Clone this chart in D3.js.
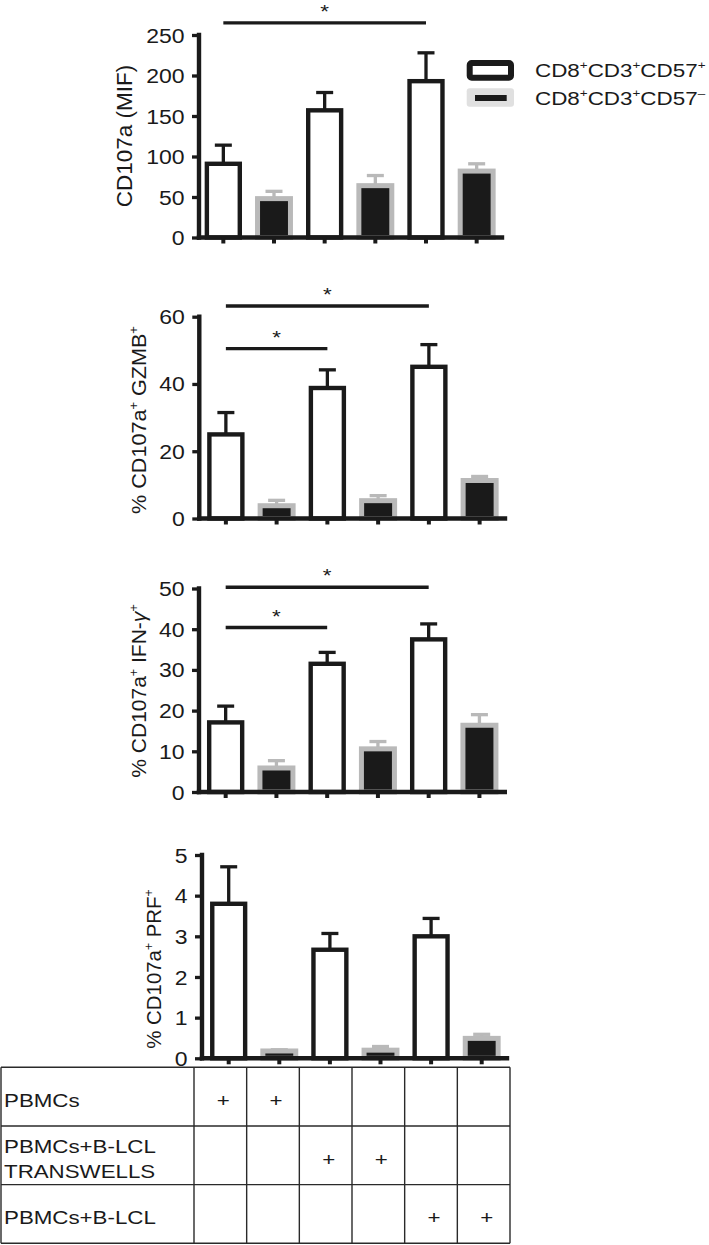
<!DOCTYPE html>
<html>
<head>
<meta charset="utf-8">
<script src="https://cdn.jsdelivr.net/npm/d3@7"></script>
<style>
  body { margin: 0; background: #fff; }
  svg { display: block; }
  text { font-family: "Liberation Sans", Arial, Helvetica, sans-serif; fill: #1a1a1a; }
</style>
</head>
<body>
<svg id="chart" width="709" height="1245"></svg>
<script>
// ---- data ----
var barNames = ["PBMCs CD57+", "PBMCs CD57-", "Transwell CD57+", "Transwell CD57-", "B-LCL CD57+", "B-LCL CD57-"];
var barSubset = ["pos", "neg", "pos", "neg", "pos", "neg"];

var mifMean = [91, 48, 157, 64, 193, 82];
var mifErr = [23, 9, 22, 12.5, 35, 9];
var mifTicks = [0, 50, 100, 150, 200, 250];
var mifSig = [[0, 4, 265]];

var gzmbMean = [25, 3.8, 38.8, 5.3, 45.1, 11.3];
var gzmbErr = [6.5, 1.6, 5.4, 1.5, 6.6, 1.2];
var gzmbTicks = [0, 20, 40, 60];
var gzmbSig = [[0, 4, 63.2], [0, 2, 50.5]];

var ifngMean = [17.1, 5.9, 31.5, 10.6, 37.5, 16.4];
var ifngErr = [4, 1.8, 2.8, 1.8, 3.8, 2.6];
var ifngTicks = [0, 10, 20, 30, 40, 50];
var ifngSig = [[0, 4, 50.3], [0, 2, 40.4]];

var prfMean = [3.8, 0.18, 2.67, 0.2, 3.0, 0.49];
var prfErr = [0.91, 0.03, 0.4, 0.09, 0.44, 0.1];
var prfTicks = [0, 1, 2, 3, 4, 5];
var prfSig = [];

var legendLabels = [
	[{t: "CD8"}, {t: "+", sup: 1}, {t: "CD3"}, {t: "+", sup: 1}, {t: "CD57"}, {t: "+", sup: 1}],
	[{t: "CD8"}, {t: "+", sup: 1}, {t: "CD3"}, {t: "+", sup: 1}, {t: "CD57"}, {t: "\u2013", sup: 1}]
];

var rowLabels = [["PBMCs"], ["PBMCs+B-LCL", "TRANSWELLS"], ["PBMCs+B-LCL"]];
var rowMarks = [[1, 1, 0, 0, 0, 0], [0, 0, 1, 1, 0, 0], [0, 0, 0, 0, 1, 1]];

var panels = [
	{mean: mifMean, err: mifErr, ticks: mifTicks, sig: mifSig,
	 title: [{t: "CD107a (MIF)"}]},
	{mean: gzmbMean, err: gzmbErr, ticks: gzmbTicks, sig: gzmbSig,
	 title: [{t: "% CD107a"}, {t: "+", sup: 1}, {t: " GZMB"}, {t: "+", sup: 1}]},
	{mean: ifngMean, err: ifngErr, ticks: ifngTicks, sig: ifngSig,
	 title: [{t: "% CD107a"}, {t: "+", sup: 1}, {t: " IFN-"}, {t: "\u03b3", it: 1}, {t: "+", sup: 1, it: 1}]},
	{mean: prfMean, err: prfErr, ticks: prfTicks, sig: prfSig,
	 title: [{t: "% CD107a"}, {t: "+", sup: 1}, {t: " PRF"}, {t: "+", sup: 1}]}
];

// ---- layout ----
var layouts = [
	{axisX: 199, band: [198, 502], y0: 237.5, yTop: 35, titleX: 132, titleY: 136, titleSize: 22.5, titleSX: 1.0},
	{axisX: 199.3, band: [200.5, 505], y0: 518.5, yTop: 316.7, titleX: 146, titleY: 420, titleSize: 20, titleSX: 1.08},
	{axisX: 199, band: [200.3, 504.8], y0: 792, yTop: 588.5, titleX: 146, titleY: 691, titleSize: 20, titleSX: 1.05},
	{axisX: 202, band: [203.4, 507], y0: 1058.3, yTop: 855, titleX: 161, titleY: 969, titleSize: 20, titleSX: 1.02}
];

var INK = "#1a1a1a", GREY = "#b9b9b9", SX = 1.18;
var svg = d3.select("#chart");

function rich(textSel, parts, size) {
	var shift = 0;
	parts.forEach(function(p) {
		var ts = textSel.append("tspan").text(p.t);
		var target = p.sup ? -size * 0.42 : 0;
		if (target !== shift) ts.attr("dy", target - shift);
		shift = target;
		if (p.sup) ts.attr("font-size", size * 0.6);
		if (p.it) ts.attr("font-style", "italic");
	});
}

panels.forEach(function(p, k) {
	var L = layouts[k];
	var g = svg.append("g");

	var x = d3.scaleBand().domain(d3.range(barNames.length)).range(L.band);
	var y = d3.scaleLinear().domain([0, d3.max(p.ticks)]).range([L.y0, L.yTop]);
	var bw = x.bandwidth() * 0.65;

	var rows = p.mean.map(function(v, i) { return {i: i, v: v, e: p.err[i], s: barSubset[i]}; });

	// error bars (upper only)
	var eb = g.selectAll(".err").data(rows).enter().append("g")
		.attr("stroke", function(d) { return d.s === "pos" ? INK : GREY; })
		.attr("stroke-width", 3.3);
	eb.append("line")
		.attr("x1", function(d) { return x(d.i) + x.bandwidth() / 2; })
		.attr("x2", function(d) { return x(d.i) + x.bandwidth() / 2; })
		.attr("y1", function(d) { return y(d.v); })
		.attr("y2", function(d) { return y(d.v + d.e); });
	eb.append("line")
		.attr("x1", function(d) { return x(d.i) + x.bandwidth() / 2 - 8.5; })
		.attr("x2", function(d) { return x(d.i) + x.bandwidth() / 2 + 8.5; })
		.attr("y1", function(d) { return y(d.v + d.e); })
		.attr("y2", function(d) { return y(d.v + d.e); });

	// bars
	g.selectAll(".bar").data(rows).enter().append("rect")
		.attr("x", function(d) { return x(d.i) + (x.bandwidth() - bw) / 2; })
		.attr("width", bw)
		.attr("y", function(d) { return y(d.v); })
		.attr("height", function(d) { return y(0) - y(d.v); })
		.attr("fill", function(d) { return d.s === "pos" ? "#fff" : INK; })
		.attr("stroke", function(d) { return d.s === "pos" ? INK : GREY; })
		.attr("stroke-width", function(d) { return d.s === "pos" ? 4.4 : 5; });

	// y axis
	var ya = g.append("g")
		.attr("transform", "translate(" + L.axisX + ",0)")
		.style("color", INK)
		.call(d3.axisLeft(y).tickValues(p.ticks).tickFormat(d3.format("~g")).tickSize(7).tickSizeOuter(0));
	ya.select(".domain").attr("d", "M0," + (L.y0 + 2.2) + "V" + (L.yTop - 2.2)).attr("stroke-width", 4.4);
	ya.selectAll(".tick line").attr("stroke-width", 3.3);
	ya.selectAll(".tick text")
		.attr("x", null)
		.attr("dy", "0.36em")
		.attr("font-size", 19.5)
		.attr("transform", "translate(-14.5,0) scale(" + SX + ",1)");

	// x axis
	var xa = g.append("g")
		.attr("transform", "translate(0," + L.y0 + ")")
		.style("color", INK)
		.call(d3.axisBottom(x).tickSize(6).tickSizeOuter(0).tickFormat(""));
	xa.select(".domain").attr("d", "M" + (L.axisX - 2.2) + ",0H" + (L.band[1] + 2.2)).attr("stroke-width", 4.4);
	xa.selectAll(".tick line").attr("stroke-width", 4);
	xa.selectAll(".tick text").remove();

	// y title
	var tt = g.append("text")
		.attr("text-anchor", "middle")
		.attr("font-size", L.titleSize)
		.attr("transform", "translate(" + L.titleX + "," + L.titleY + ") rotate(-90) scale(" + L.titleSX + ",1)");
	rich(tt, p.title, L.titleSize);

	// significance brackets
	p.sig.forEach(function(s) {
		var xa0 = x(s[0]) + x.bandwidth() / 2, xb0 = x(s[1]) + x.bandwidth() / 2;
		g.append("line")
			.attr("x1", xa0).attr("x2", xb0)
			.attr("y1", y(s[2])).attr("y2", y(s[2]))
			.attr("stroke", INK).attr("stroke-width", 3.4);
		g.append("text")
			.attr("text-anchor", "middle")
			.attr("font-size", 19)
			.attr("transform", "translate(" + ((xa0 + xb0) / 2) + "," + (y(s[2]) - 5) + ") scale(" + SX + ",1)")
			.text("*");
	});
});

// ---- legend ----
var lg = svg.append("g");
lg.append("rect").attr("x", 469.7).attr("y", 63).attr("width", 41.3).attr("height", 14.7)
	.attr("rx", 2).attr("fill", "#fff").attr("stroke", INK).attr("stroke-width", 6);
lg.append("rect").attr("x", 466.7).attr("y", 88.3).attr("width", 47.3).attr("height", 18.4)
	.attr("rx", 3).attr("fill", "#e0e0e0");
lg.append("rect").attr("x", 475).attr("y", 95).attr("width", 31.7).attr("height", 6).attr("fill", INK);
legendLabels.forEach(function(parts, i) {
	var t = lg.append("text")
		.attr("font-size", 19)
		.attr("transform", "translate(535," + (76.7 + i * 28.3) + ") scale(" + SX + ",1)");
	rich(t, parts, 19);
});

// ---- condition table ----
var tg = svg.append("g");
var cols = d3.scaleBand().domain(d3.range(barNames.length)).range([194, 510]);
var rws = d3.scaleBand().domain(d3.range(rowLabels.length)).range([1067.3, 1243.3]);
var edgesY = rws.domain().map(function(r) { return rws(r); }).concat([rws.range()[1]]);
var edgesX = [1, 194].concat(cols.domain().map(function(c) { return cols(c) + cols.bandwidth(); }));

tg.selectAll(".hl").data(edgesY).enter().append("line")
	.attr("x1", 1).attr("x2", 510).attr("y1", function(d) { return d; }).attr("y2", function(d) { return d; })
	.attr("stroke", "#2a2a2a").attr("stroke-width", 1.4);
tg.selectAll(".vl").data(edgesX).enter().append("line")
	.attr("y1", 1067.3).attr("y2", 1243.3).attr("x1", function(d) { return d; }).attr("x2", function(d) { return d; })
	.attr("stroke", "#2a2a2a").attr("stroke-width", 1.4);

rowLabels.forEach(function(lines, r) {
	var cy = rws(r) + rws.bandwidth() / 2;
	lines.forEach(function(ln, j) {
		tg.append("text")
			.attr("font-size", 18.6)
			.attr("transform", "translate(4," + (cy + 10.2 - (lines.length - 1) * 12.85 + j * 25.7) + ") scale(1.2,1)")
			.text(ln);
	});
	rowMarks[r].forEach(function(m, c) {
		if (!m) return;
		tg.append("text")
			.attr("font-size", 18.6)
			.attr("text-anchor", "middle")
			.attr("transform", "translate(" + (cols(c) + cols.bandwidth() / 2 + 3) + "," + (cy + 10.5) + ") scale(1.2,1)")
			.text("+");
	});
});
</script>
</body>
</html>
